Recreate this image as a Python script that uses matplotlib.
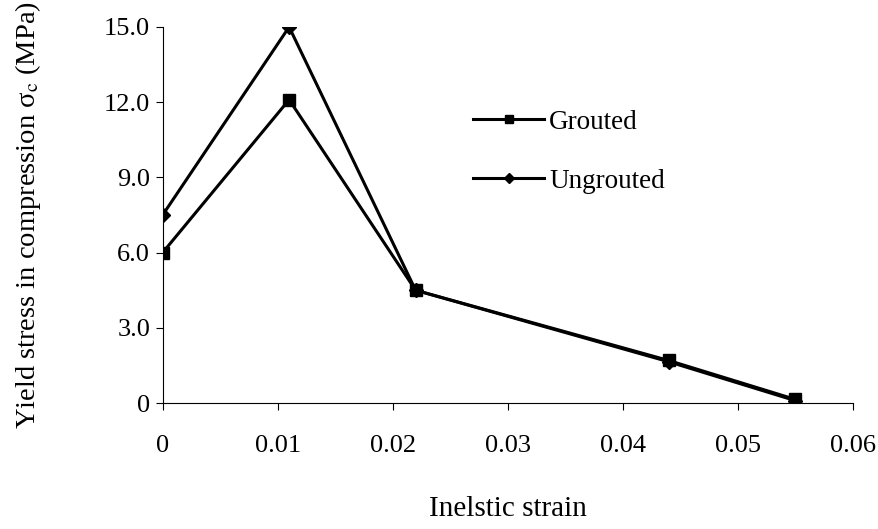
import numpy as np
import matplotlib.pyplot as plt

plt.rcParams['font.family'] = ['Liberation Serif', 'DejaVu Serif']
plt.rcParams['mathtext.fontset'] = 'stix'

# data
strain = [0, 0.011, 0.022, 0.044, 0.055]
grouted = [6.0, 12.1, 4.5, 1.7, 0.15]
ungrouted = [7.5, 15.0, 4.5, 1.65, 0.1]

xticks = [0, 0.01, 0.02, 0.03, 0.04, 0.05, 0.06]
xticklabels = ['0', '0.01', '0.02', '0.03', '0.04', '0.05', '0.06']
yticks = [0, 3.0, 6.0, 9.0, 12.0, 15.0]
yticklabels = ['0', '3.0', '6.0', '9.0', '12.0', '15.0']

fig = plt.figure(figsize=(8.79, 5.29), dpi=100)
ax = fig.add_axes([0.185, 0.238, 0.785, 0.711])

ax.plot(strain, grouted, color='black', lw=2.2, marker='s', ms=8, label='Grouted')
ax.plot(strain, ungrouted, color='black', lw=2.2, marker='D', ms=7, label='Ungrouted')

ax.set_xlim(0, 0.06)
ax.set_ylim(0, 15)
ax.set_xticks(xticks)
ax.set_xticklabels(xticklabels)
ax.set_yticks(yticks)
ax.set_yticklabels(yticklabels)
ax.tick_params(axis='both', labelsize=19, direction='out', length=5, width=0.8, colors='black')
ax.tick_params(axis='x', pad=18)
ax.tick_params(axis='y', pad=4)

ax.spines['top'].set_visible(False)
ax.spines['right'].set_visible(False)
ax.spines['left'].set_linewidth(0.8)
ax.spines['bottom'].set_linewidth(0.8)

ax.set_xlabel('Inelstic strain', fontsize=21, labelpad=28)
ax.set_ylabel('Yield stress in compression σ$_\\mathrm{c}$ (MPa)', fontsize=20.5, labelpad=44)

ax.legend(loc='upper left', bbox_to_anchor=(0.415, 0.845), frameon=False, fontsize=19.5,
          handlelength=2.6, labelspacing=1.25, handletextpad=0.2, markerscale=0.75)

fig.savefig('out.png', dpi=100)
